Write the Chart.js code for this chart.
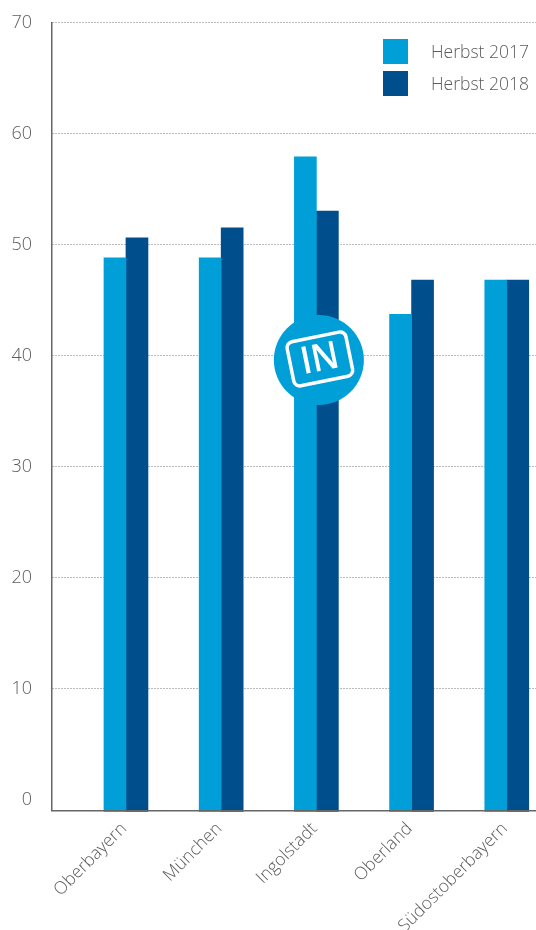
<!DOCTYPE html>
<html lang="de">
<head>
<meta charset="utf-8">
<title>Herbst 2017 / Herbst 2018</title>
<script src="https://cdn.jsdelivr.net/npm/chart.js@4"></script>
<style>
  html, body { margin: 0; padding: 0; background: #fff; overflow: hidden; }
  canvas { display: block; }
</style>
</head>
<body>
<canvas id="myBars" width="536" height="930"></canvas>
<script>
const regions = ["Oberbayern", "München", "Ingolstadt", "Oberland", "Südostoberbayern"];
const herbst2017 = [48.8, 48.8, 57.9, 43.7, 46.8];
const herbst2018 = [50.6, 51.5, 53, 46.8, 46.8];
const yTicks = [0, 10, 20, 30, 40, 50, 60, 70];

const lightBlue = "#009fd8";
const darkBlue = "#004f8c";
const textGrey = "#5c5c5c";
const fontName = "'Open Sans', sans-serif";

// x axis is linear so the first group can sit closer to the y axis than a category band allows
const xMin = -0.777;
const xMax = 4.307;
const yMin = -1;

// legend in the upper right corner of the plot
const legendBoxes = {
    id: "legendBoxes",
    afterDatasetsDraw(chart) {
        const ctx = chart.ctx;
        ctx.save();
        ctx.font = "300 17.5px " + fontName;
        ctx.textBaseline = "middle";
        chart.data.datasets.forEach((ds, i) => {
            const top = 39 + i * 32;
            ctx.fillStyle = ds.backgroundColor;
            ctx.fillRect(383, top, 25, 25);
            ctx.fillStyle = textGrey;
            ctx.fillText(ds.label, 431, top + 14);
        });
        ctx.restore();
    }
};

// round "IN" badge on top of the Ingolstadt bars
const badge = {
    id: "badge",
    afterDatasetsDraw(chart) {
        const ctx = chart.ctx;
        const cx = chart.scales.x.getPixelForValue(2) + 2.5;
        const cy = chart.scales.y.getPixelForValue(40) + 4.5;
        ctx.save();
        ctx.fillStyle = lightBlue;
        ctx.beginPath();
        ctx.arc(cx, cy, 45, 0, Math.PI * 2);
        ctx.fill();
        ctx.translate(cx + 1, cy - 1);
        ctx.rotate(-11.5 * Math.PI / 180);
        ctx.strokeStyle = "#fff";
        ctx.lineWidth = 3.5;
        ctx.beginPath();
        ctx.roundRect(-30, -22.5, 60, 45, 6);
        ctx.stroke();
        ctx.fillStyle = "#fff";
        ctx.font = "600 38px " + fontName;
        ctx.textAlign = "center";
        ctx.textBaseline = "middle";
        ctx.fillText("IN", 0, 1, 38);
        ctx.restore();
    }
};

function toPoints(values) {
    return values.map((v, i) => ({ x: i, y: v }));
}

new Chart(document.getElementById("myBars"), {
    type: "bar",
    data: {
        datasets: [
            { label: "Herbst 2017", data: toPoints(herbst2017), backgroundColor: lightBlue },
            { label: "Herbst 2018", data: toPoints(herbst2018), backgroundColor: darkBlue }
        ]
    },
    plugins: [legendBoxes, badge],
    options: {
        responsive: false,
        animation: false,
        layout: { padding: { top: 22.5 } },
        datasets: {
            bar: { barThickness: 22, base: yMin - 0.09, clip: false }
        },
        plugins: {
            legend: { display: false },
            tooltip: { enabled: false }
        },
        scales: {
            x: {
                type: "linear",
                offset: false,
                min: xMin,
                max: xMax,
                afterBuildTicks: (scale) => { scale.ticks = regions.map((_, i) => ({ value: i })); },
                afterFit: (scale) => { scale.height = 119.5; },
                grid: { display: false },
                border: { color: "#666", width: 1.5, z: 1 },
                ticks: {
                    autoSkip: false,
                    minRotation: 45,
                    maxRotation: 45,
                    padding: 0,
                    labelOffset: -2,
                    color: textGrey,
                    font: { family: fontName, size: 17.5, weight: "300" },
                    callback: (value) => regions[value]
                }
            },
            y: {
                min: yMin,
                max: 70,
                afterBuildTicks: (scale) => { scale.ticks = yTicks.map((v) => ({ value: v })); },
                afterFit: (scale) => { scale.width = 52; scale.paddingTop = 0; },
                grid: {
                    drawTicks: false,
                    lineWidth: 1,
                    color: (c) => (c.tick.value === 0 ? "transparent" : "#777")
                },
                border: { color: "#666", width: 1.5, dash: [1, 2], z: 1 },
                ticks: {
                    padding: 20,
                    color: textGrey,
                    font: { family: fontName, size: 18, weight: "300" }
                }
            }
        }
    }
});
</script>
</body>
</html>
